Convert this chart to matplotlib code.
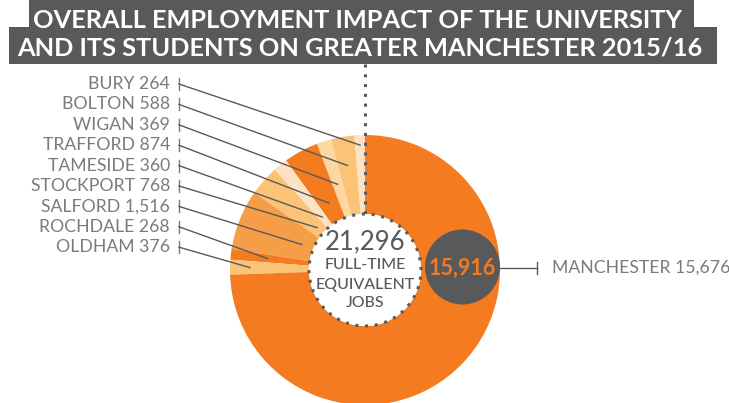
import matplotlib.pyplot as plt
from matplotlib.patches import Circle, Rectangle
import numpy as np

# Empleo equivalente a tiempo completo por distrito
distritos = ["BURY", "BOLTON", "WIGAN", "TRAFFORD", "TAMESIDE",
             "STOCKPORT", "SALFORD", "ROCHDALE", "OLDHAM", "MANCHESTER"]
empleos = [264, 588, 369, 874, 360, 768, 1516, 268, 376, 15676]
etiquetas = ["264", "588", "369", "874", "360", "768", "1,516", "268", "376", "15,676"]
total_txt = "21,296"
manchester_txt = "15,916"

colores = ["#FDE2C6", "#FBC375", "#FDD7A1", "#F47B20", "#FDE2C6",
           "#FBC375", "#F69D48", "#F47B20", "#FBC375", "#F47B20"]

GRIS = "#58595B"
GRIS_TXT = "#7A7B7E"
NARANJA = "#F47B20"

W, H = 729, 403
fig = plt.figure(figsize=(W / 100, H / 100), dpi=100)
ax = fig.add_axes([0, 0, 1, 1])

# centro y radios del anillo (en pixeles, y hacia arriba)
cx, cy = 365, 133
r_ext, r_int = 135, 56

wedges, _ = ax.pie(empleos, colors=colores, startangle=90, counterclock=True,
                   radius=r_ext, center=(cx, cy),
                   wedgeprops=dict(width=r_ext - r_int, linewidth=0))
ax.set_xlim(0, W)
ax.set_ylim(0, H)
ax.set_aspect("equal")
ax.axis("off")

# circulo central con borde punteado
ax.add_patch(Circle((cx, cy), r_int, facecolor="white", edgecolor=GRIS,
                    linestyle=(0, (1, 2.2)), linewidth=2.2, zorder=5))
ax.text(cx, H - 242, total_txt, ha="center", va="center", fontsize=18.5,
        color=GRIS, family="Lato", zorder=6)
for txt, yy in zip(["FULL-TIME", "EQUIVALENT", "JOBS"], [265, 285, 303]):
    ax.text(cx, H - yy, txt, ha="center", va="center", fontsize=11.5,
            color=GRIS, family="Lato", fontweight="medium", zorder=6)

# linea punteada desde el titulo
ax.plot([cx, cx], [H - 64, cy + r_int], color=GRIS, linestyle=(0, (1, 2.2)),
        linewidth=2.2, zorder=4)

# titulo en bloques grises
ax.add_patch(Rectangle((29, H - 27), 694 - 29, 27, facecolor=GRIS, edgecolor="none", zorder=7))
ax.add_patch(Rectangle((9, H - 64), 717 - 9, 37, facecolor=GRIS, edgecolor="none", zorder=7))
ax.text(357, H - 21, "OVERALL EMPLOYMENT IMPACT OF THE UNIVERSITY", ha="center",
        va="center", fontsize=18.3, color="white", family="Lato", fontweight="bold", zorder=8)
ax.text(360, H - 48, "AND ITS STUDENTS ON GREATER MANCHESTER 2015/16", ha="center",
        va="center", fontsize=18.3, color="white", family="Lato", fontweight="bold", zorder=8)

# etiquetas de la izquierda con lineas guia
radio_guia = [125, 106, 90, 76, 68, 64, 68, 98, 115]
x_txt, x_tick = 170, 179
for i in range(9):
    w = wedges[i]
    ang = np.deg2rad((w.theta1 + w.theta2) / 2)
    px = cx + radio_guia[i] * np.cos(ang)
    py = cy + radio_guia[i] * np.sin(ang)
    yy = H - (84 + 20.4 * i)
    ax.text(x_txt, yy, f"{distritos[i]} {etiquetas[i]}", ha="right", va="center",
            fontsize=12.7, color=GRIS_TXT, family="Lato")
    ax.plot([x_tick, x_tick], [yy - 6, yy + 6], color=GRIS_TXT, linewidth=1)
    ax.plot([x_tick, px], [yy, py], color=GRIS, linewidth=1, zorder=3)

# circulo de Manchester y su etiqueta
gx = cx + r_ext - 37.5
ax.add_patch(Circle((gx, cy + 3), 37.5, facecolor=GRIS, edgecolor="none", zorder=5))
ax.text(gx, cy + 2, manchester_txt, ha="center", va="center", fontsize=15.5,
        color=NARANJA, family="Lato", fontweight="bold", zorder=6)
ym = H - 268
ax.plot([cx + r_ext, 537], [ym, ym], color=GRIS, linewidth=1)
ax.plot([537, 537], [ym - 6, ym + 6], color=GRIS, linewidth=1)
ax.text(552, ym, f"{distritos[9]} {etiquetas[9]}", ha="left", va="center",
        fontsize=12.7, color=GRIS_TXT, family="Lato")

fig.savefig("out.png", dpi=100)
